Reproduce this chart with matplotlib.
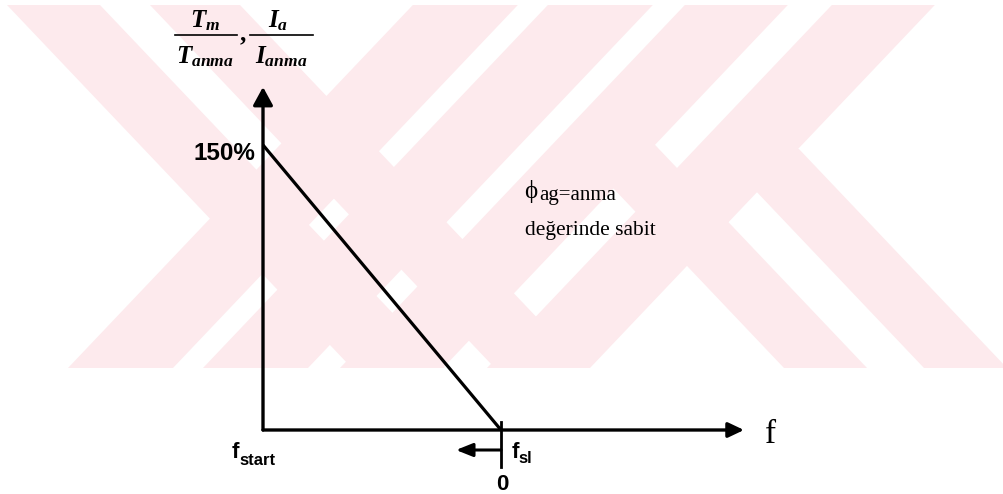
import numpy as np
import matplotlib.pyplot as plt
from matplotlib.patches import Polygon

plt.rcParams['mathtext.fontset'] = 'custom'
plt.rcParams['mathtext.it'] = 'Liberation Serif:italic:bold'
plt.rcParams['mathtext.rm'] = 'Liberation Serif:bold'

W, H = 1004, 494

# T_m/T_anma (= I_a/I_anma) against f: falls linearly from f_start to f_sl
freq = [0.0, 1.0]          # f_start, f_sl
ratio = [150.0, 0.0]       # %
ratio_label = "150%"

# plot scale: origin pixel and pixels per unit
X0, Y0 = 263, 430
PX_X, PX_Y = 238.0, 1.9

def px(x, y):
    return ((x - X0) / PX_X, (Y0 - y) / PX_Y)

fig = plt.figure(figsize=(W / 100, H / 100), dpi=100)

# background stripes (pink band pattern)
bg = fig.add_axes([0, 0, 1, 1])
bg.set_xlim(0, W); bg.set_ylim(H, 0); bg.axis('off')
pink = '#fdeaed'
k, top, bot = 0.95, 5, 368
h = bot - top
for a, b in [(68, 173), (203, 308), (340, 443), (487, 590)]:
    bg.add_patch(Polygon([(a, bot), (b, bot), (b + k * h, top), (a + k * h, top)],
                         closed=True, fc=pink, ec='none'))
for a, b in [(7, 100), (150, 240)]:
    bg.add_patch(Polygon([(a, top), (b, top), (b + k * h, bot), (a + k * h, bot)],
                         closed=True, fc=pink, ec='none'))
for a, b, ys in [(784, 867, 145), (924, 1007, 149)]:
    s = k * (bot - ys)
    bg.add_patch(Polygon([(a - s, ys), (b - s, ys), (b, bot), (a, bot)],
                         closed=True, fc=pink, ec='none'))

ax = fig.add_axes([0, 0, 1, 1])
ax.set_xlim(-X0 / PX_X, (W - X0) / PX_X)
ax.set_ylim((Y0 - H) / PX_Y, Y0 / PX_Y)
ax.axis('off')
ax.patch.set_alpha(0)

# axes with arrow heads
ax.annotate('', xy=px(263, 87), xytext=(0, 0),
            arrowprops=dict(arrowstyle='-|>,head_length=1.1,head_width=0.6',
                            lw=2.4, color='k', shrinkA=0, shrinkB=0))
ax.annotate('', xy=px(744, 430), xytext=(0, 0),
            arrowprops=dict(arrowstyle='-|>,head_length=0.95,head_width=0.45',
                            lw=2.4, color='k', shrinkA=0, shrinkB=0))

# characteristic line
ax.plot(freq, ratio, color='k', lw=2.3, solid_capstyle='butt')

# f_sl marker and direction arrow
ax.plot([freq[1], freq[1]], [px(0, 422)[1], px(0, 467)[1]], color='k', lw=2.0)
ax.annotate('', xy=px(456, 450), xytext=(freq[1], px(0, 450)[1]),
            arrowprops=dict(arrowstyle='-|>,head_length=1.0,head_width=0.4',
                            lw=2.2, color='k', shrinkA=0, shrinkB=0))

sans = 'Liberation Sans'
serif = ['Liberation Serif', 'DejaVu Serif']

ax.text(*px(255, 153), ratio_label, ha='right', va='center',
        family=sans, fontweight='bold', fontsize=17.5)
ax.text(*px(232, 458), 'f', ha='left', va='baseline',
        family=sans, fontweight='bold', fontsize=16)
ax.text(*px(239, 465), 'start', ha='left', va='baseline',
        family=sans, fontweight='bold', fontsize=12)
ax.text(*px(512, 458), 'f', ha='left', va='baseline',
        family=sans, fontweight='bold', fontsize=16)
ax.text(*px(518, 463), 'sl', ha='left', va='baseline',
        family=sans, fontweight='bold', fontsize=12)
ax.text(*px(502, 490), '0', ha='center', va='baseline',
        family=sans, fontweight='bold', fontsize=16)
ax.text(*px(771, 443), 'f', ha='center', va='baseline',
        family=serif, fontsize=24)

ax.text(*px(524, 198), '\u03d5', ha='left', va='baseline',
        family=serif, fontsize=18)
ax.text(*px(539, 200), 'ag=anma', ha='left', va='baseline',
        family=serif, fontsize=15)
ax.text(*px(525, 235), 'değerinde sabit', ha='left', va='baseline',
        family=serif, fontsize=15.5)

# y-axis quantity: T_m/T_anma , I_a/I_anma
ax.text(*px(205, 27), r'$T_m$', ha='center', va='baseline', fontsize=18)
ax.text(*px(205, 63), r'$T_{anma}$', ha='center', va='baseline', fontsize=18)
ax.text(*px(278, 27), r'$I_a$', ha='center', va='baseline', fontsize=18)
ax.text(*px(281, 63), r'$I_{anma}$', ha='center', va='baseline', fontsize=18)
ax.text(*px(243, 40), ',', ha='center', va='baseline',
        family=serif, fontweight='bold', fontsize=18)
for x1, x2 in [(175, 237), (250, 313)]:
    ax.plot([px(x1, 0)[0], px(x2, 0)[0]], [px(0, 35)[1]] * 2, color='k', lw=1.2)

fig.savefig('out.png', dpi=100)
